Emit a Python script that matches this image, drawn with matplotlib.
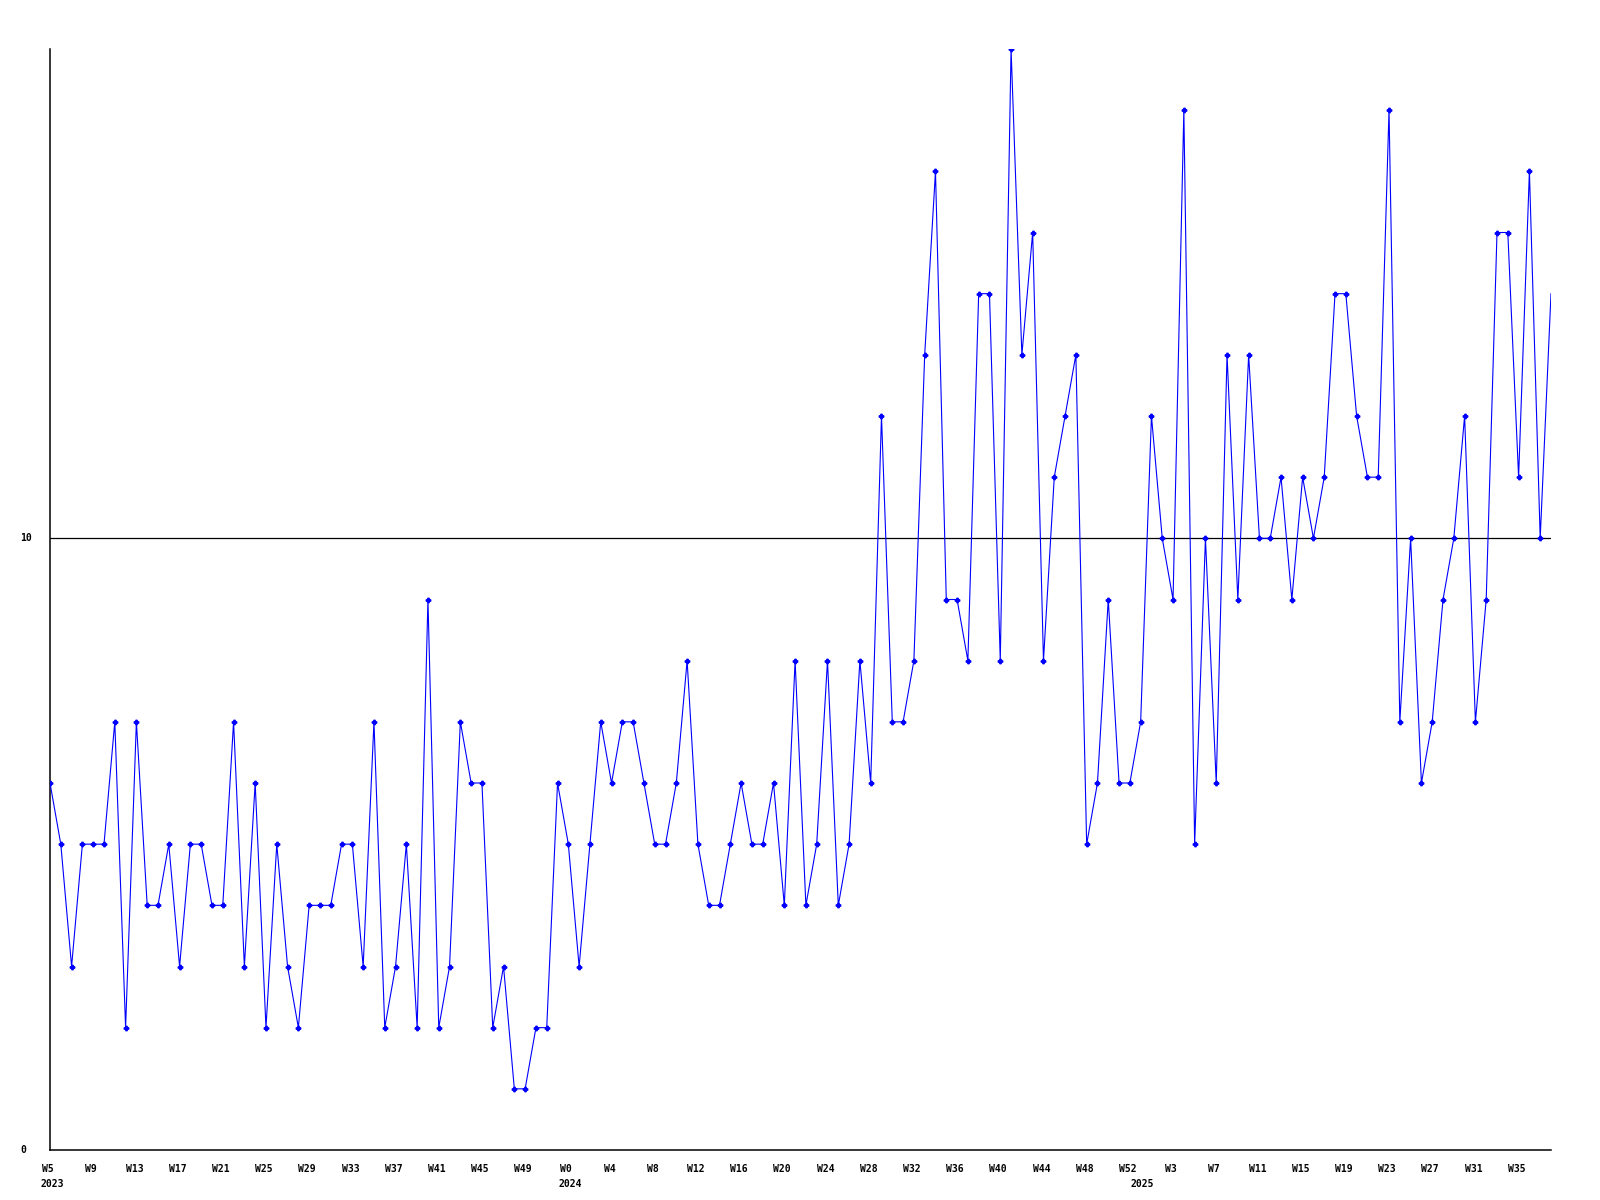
import matplotlib
matplotlib.use("Agg")
import matplotlib.pyplot as plt

# Weekly values (W5 2023 .. W38 2025)
values = [6, 5, 3, 5, 5, 5, 7, 2, 7, 4, 4, 5, 3, 5, 5, 4, 4, 7, 3, 6,
          2, 5, 3, 2, 4, 4, 4, 5, 5, 3, 7, 2, 3, 5, 2, 9, 2, 3, 7, 6,
          6, 2, 3, 1, 1, 2, 2, 6, 5, 3, 5, 7, 6, 7, 7, 6, 5, 5, 6, 8,
          5, 4, 4, 5, 6, 5, 5, 6, 4, 8, 4, 5, 8, 4, 5, 8, 6, 12, 7, 7,
          8, 13, 16, 9, 9, 8, 14, 14, 8, 18, 13, 15, 8, 11, 12, 13, 5, 6, 9, 6,
          6, 7, 12, 10, 9, 17, 5, 10, 6, 13, 9, 13, 10, 10, 11, 9, 11, 10, 11, 14,
          14, 12, 11, 11, 17, 7, 10, 6, 7, 9, 10, 12, 7, 9, 15, 15, 11, 16, 10, 14]

tick_labels = ["W5", "W9", "W13", "W17", "W21", "W25", "W29", "W33", "W37", "W41",
               "W45", "W49", "W0", "W4", "W8", "W12", "W16", "W20", "W24", "W28",
               "W32", "W36", "W40", "W44", "W48", "W52", "W3", "W7", "W11", "W15",
               "W19", "W23", "W27", "W31", "W35"]
year_labels = ["2023", "2024", "2025"]
year_positions = [0, 48, 101]
y_labels = [0, 10]

x = list(range(len(values)))

fig = plt.figure(figsize=(16, 12), dpi=100)
ax = fig.add_axes([50/1600, 50/1200, 1501/1600, (1150-49)/1200])

ax.plot(x, values, color=(0, 0, 1), lw=0.8, marker='P', markersize=3.2,
        markevery=list(range(len(values) - 1)), clip_on=True, zorder=3)

ax.set_xlim(0, len(values) - 1)
ax.set_ylim(0, 18)

ax.axhline(10, color='black', lw=0.9, zorder=2)

for s in ['top', 'right']:
    ax.spines[s].set_visible(False)
for s in ['left', 'bottom']:
    ax.spines[s].set_color('black')
    ax.spines[s].set_linewidth(1.1)

ax.set_xticks([])
ax.set_yticks([])

font = dict(family='DejaVu Sans Mono', weight='bold', size=7)

for i, lab in enumerate(tick_labels):
    ax.annotate(lab, xy=(i * 4, 0), xycoords=('data', 'axes fraction'),
                xytext=(-2, -14), textcoords='offset pixels',
                ha='center', va='top', annotation_clip=False, **font)

for pos, lab in zip(year_positions, year_labels):
    ax.annotate(lab, xy=(pos, 0), xycoords=('data', 'axes fraction'),
                xytext=(2, -29), textcoords='offset pixels',
                ha='center', va='top', annotation_clip=False, **font)

for v in y_labels:
    ax.annotate(str(v), xy=(0, v), xycoords=('axes fraction', 'data'),
                xytext=(-30, 0), textcoords='offset pixels',
                ha='left', va='center', annotation_clip=False, **font)

fig.savefig("out.png", dpi=100, facecolor='white')
